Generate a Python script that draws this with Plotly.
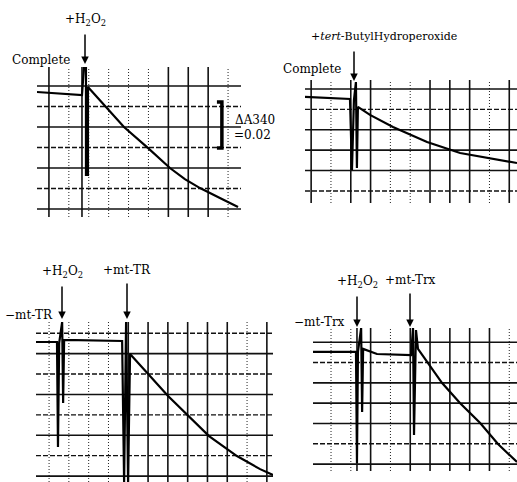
import plotly.graph_objects as go

W, H = 517, 482

# ---------------- data (time in chart divisions, absorbance in chart divisions) ----------------
# Panel 1: Complete, + H2O2
p1_t = [-0.60, 1.66, 1.76, 1.86, 1.86, 1.96, 1.96, 2.81, 3.77, 4.97, 6.08, 6.83, 7.59, 8.59, 9.50]
p1_a = [5.71, 5.56, 6.93, 6.93, 1.66, 1.66, 5.95, 5.02, 4.00, 2.98, 2.00, 1.46, 1.02, 0.54, 0.10]
# scale bar (Delta A340 = 0.02)
bar_t = [8.44, 8.69, 8.69, 8.44]
bar_a = [5.22, 5.22, 2.98, 2.98]

# Panel 2: Complete, + tert-butyl hydroperoxide
p2_t = [-1.31, 0.96, 1.06, 1.16, 1.26, 1.31, 1.36, 1.97, 3.13, 4.85, 6.52, 8.18, 9.39]
p2_a = [4.61, 4.51, 1.03, 4.46, 5.34, 1.13, 4.12, 3.73, 3.14, 2.40, 1.86, 1.57, 1.37]

# Panel 3: -mt-TR, + H2O2, + mt-TR
p3_t = [-0.66, 0.40, 0.45, 0.51, 0.66, 0.71, 0.76, 3.69, 3.79, 3.89, 3.99, 4.09,
        6.01, 7.02, 8.08, 9.49, 10.66, 11.31]
p3_a = [6.57, 6.57, 1.42, 6.52, 7.55, 3.58, 6.67, 6.62, -0.29, 7.55, -0.29, 5.98,
        3.92, 2.94, 1.96, 0.98, 0.34, 0.05]

# Panel 4: -mt-Trx, + H2O2, + mt-Trx
p4_t = [-0.91, 1.26, 1.31, 1.36, 1.52, 1.57, 1.62, 2.32, 4.04, 4.14, 4.19, 4.29, 4.39,
        5.61, 6.52, 7.53, 8.43, 9.39]
p4_a = [5.52, 5.52, 0.05, 5.52, 6.70, 2.56, 5.67, 5.42, 5.37, 6.70, 1.43, 6.60, 5.67,
        3.99, 3.00, 2.02, 0.99, 0.10]

# chart-paper grid lines (division numbers)
p1_vsolid, p1_vdot, p1_hsolid, p1_hdash = [0, 1.66, 6, 7, 8], [1, 2, 3, 4, 5, 9], [0, 2, 4, 6], [1, 3, 5]
p2_vsolid, p2_vdot, p2_hsolid, p2_hdash = [-1, 1, 2, 5, 6, 7, 9], [0, 3, 4, 8], [1, 2, 3, 5], [0, 4]
p3_vsolid, p3_vdot, p3_hsolid, p3_hdash = [4, 5, 6, 7, 8, 9, 11], [0, 1, 2, 3, 10], [0, 2, 4, 6], [1, 3, 5, 7]
p4_vsolid, p4_vdot, p4_hsolid, p4_hdash = [1.31, 2, 4, 5, 6, 7, 8], [0, 1, 3, 9], [0, 2, 3, 4, 6], [1, 5]

# ---------------- layout helpers ----------------
panels = [
    dict(box=(37, 241, 67, 217), xr=(-0.60, 9.65), yr=(-0.39, 6.93),
         t=p1_t, a=p1_a, grid=(p1_vsolid, p1_vdot, p1_hsolid, p1_hdash)),
    dict(box=(305, 517, 80, 203), xr=(-1.31, 9.39), yr=(-0.59, 5.44),
         t=p2_t, a=p2_a, grid=(p2_vsolid, p2_vdot, p2_hsolid, p2_hdash)),
    dict(box=(36, 273, 322, 482), xr=(-0.66, 11.31), yr=(-0.29, 7.55),
         t=p3_t, a=p3_a, grid=(p3_vsolid, p3_vdot, p3_hsolid, p3_hdash)),
    dict(box=(313, 517, 328, 471), xr=(-0.91, 9.39), yr=(-0.34, 6.70),
         t=p4_t, a=p4_a, grid=(p4_vsolid, p4_vdot, p4_hsolid, p4_hdash)),
]

fig = go.Figure()
layout = dict(width=W, height=H, margin=dict(l=0, r=0, t=0, b=0),
              paper_bgcolor="white", plot_bgcolor="white", showlegend=False)


def vlines(xs, yr):
    X, Y = [], []
    for v in xs:
        X += [v, v, None]
        Y += [yr[0], yr[1], None]
    return X, Y


def hlines(ys, xr):
    X, Y = [], []
    for v in ys:
        X += [xr[0], xr[1], None]
        Y += [v, v, None]
    return X, Y


for i, p in enumerate(panels, start=1):
    sx = "" if i == 1 else str(i)
    x0, x1, y0, y1 = p["box"]
    layout["xaxis" + sx] = dict(domain=[x0 / W, x1 / W], range=list(p["xr"]), visible=False,
                                showgrid=False, zeroline=False, fixedrange=True,
                                anchor="y" + sx)
    layout["yaxis" + sx] = dict(domain=[1 - y1 / H, 1 - y0 / H], range=list(p["yr"]), visible=False,
                                showgrid=False, zeroline=False, fixedrange=True,
                                anchor="x" + sx)
    vs, vd, hs, hd = p["grid"]
    common = dict(xaxis="x" + sx, yaxis="y" + sx, mode="lines", hoverinfo="skip")
    X, Y = vlines(vd, p["yr"])
    fig.add_trace(go.Scatter(x=X, y=Y, line=dict(color="#222", width=1, dash="1px,2px"), **common))
    X, Y = hlines(hd, p["xr"])
    fig.add_trace(go.Scatter(x=X, y=Y, line=dict(color="#111", width=1.4, dash="5px,2px"), **common))
    X, Y = vlines(vs, p["yr"])
    fig.add_trace(go.Scatter(x=X, y=Y, line=dict(color="#111", width=1.6), **common))
    X, Y = hlines(hs, p["xr"])
    fig.add_trace(go.Scatter(x=X, y=Y, line=dict(color="#111", width=1.6), **common))
    fig.add_trace(go.Scatter(x=p["t"], y=p["a"], line=dict(color="black", width=2.2), **common))

# scale bar in panel 1
fig.add_trace(go.Scatter(x=bar_t, y=bar_a, xaxis="x", yaxis="y", mode="lines",
                         line=dict(color="black", width=3.5), hoverinfo="skip"))

FONT = dict(family="DejaVu Serif", size=12, color="black")


def label(text, cx, cy, xanchor="center", size=12, tip=None):
    d = dict(text=text, x=cx / W, y=1 - cy / H, xref="paper", yref="paper",
             showarrow=False, font=dict(FONT, size=size), xanchor=xanchor, yanchor="middle")
    if tip is not None:
        # label with an arrow below it pointing down to `tip` (pixel row)
        d.update(y=1 - tip / H, showarrow=True, ax=0, ay=-(tip - cy), arrowhead=2,
                 arrowsize=1, arrowwidth=1.5, arrowcolor="black", startstandoff=5)
        d.pop("xanchor"); d.pop("yanchor")
    return d


def arrow(px, tail, tip):
    return dict(text="", x=px / W, y=1 - tip / H, xref="paper", yref="paper",
                showarrow=True, ax=0, ay=-(tip - tail), arrowhead=2, arrowsize=1,
                arrowwidth=1.5, arrowcolor="black")


ann = [
    label("+H<sub>2</sub>O<sub>2</sub>", 85, 20, tip=64),
    label("Complete", 41, 60),
    label("ΔA340", 233, 120, "left"),
    label("=0.02", 232, 135, "left"),
    label("+<i>tert</i>-ButylHydroperoxide", 384, 37, size=11),
    label("Complete", 312, 69),
    arrow(354, 50, 81),
    label("+H<sub>2</sub>O<sub>2</sub>", 62, 272, tip=319),
    label("+mt-TR", 127, 270, tip=319),
    label("−mt-TR", 29, 315),
    label("+H<sub>2</sub>O<sub>2</sub>", 357, 282, tip=327),
    label("+mt-Trx", 410, 280, tip=327),
    label("−mt-Trx", 319, 322),
]
layout["annotations"] = ann
fig.update_layout(**layout)
fig.write_html("out.html", config={"displayModeBar": False},
               post_script="document.body.style.margin='0px';")
